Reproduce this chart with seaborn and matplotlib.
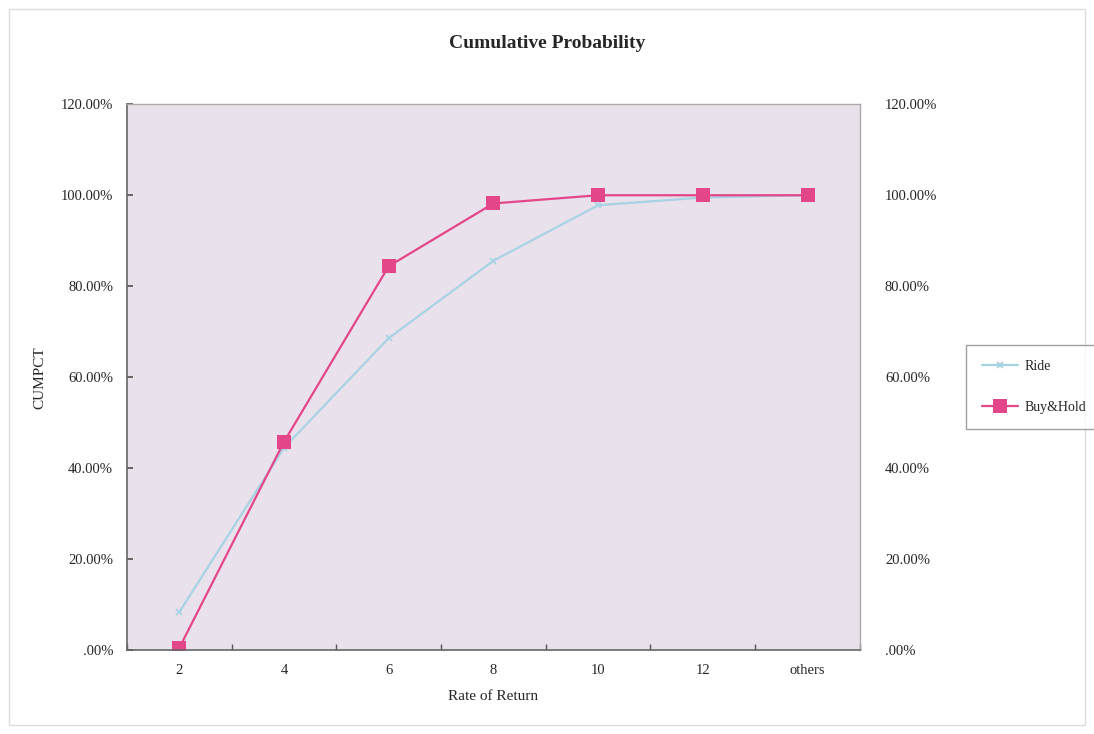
import matplotlib
matplotlib.use("Agg")
import matplotlib.pyplot as plt
import matplotlib.patches as mpatches
from matplotlib.ticker import FuncFormatter, FixedLocator
import seaborn as sns
import pandas as pd
import numpy as np

categories = ["2", "4", "6", "8", "10", "12", "others"]
ride = [8.4, 44.5, 68.6, 85.6, 97.8, 99.5, 100.0]
buy_hold = [0.5, 45.8, 84.4, 98.2, 100.0, 100.0, 100.0]

sns.set_theme(style="white")
plt.rcParams['font.family'] = ['Liberation Serif', 'DejaVu Serif']

pos = np.arange(len(categories))
df = pd.DataFrame({
    "pos": np.concatenate([pos, pos]),
    "value": ride + buy_hold,
    "series": ["Ride"] * len(categories) + ["Buy&Hold"] * len(categories),
})

fig = plt.figure(figsize=(10.94, 7.34), dpi=100)
fig.patch.set_facecolor("white")
fig.patches.append(mpatches.Rectangle((0.008, 0.012), 0.984, 0.976, transform=fig.transFigure,
                                      fill=False, edgecolor="#dddddd", linewidth=1.0))
ax = fig.add_axes([0.116, 0.114, 0.67, 0.744])
ax.set_facecolor("#e9e1eb")

ride_color = "#a9d3e4"
bh_color = "#e4468a"

sns.lineplot(data=df[df.series == "Ride"], x="pos", y="value", ax=ax, color=ride_color,
             marker="x", markersize=5, markeredgewidth=1.3, linewidth=1.6, label="Ride",
             markeredgecolor=ride_color)
sns.lineplot(data=df[df.series == "Buy&Hold"], x="pos", y="value", ax=ax, color=bh_color,
             marker="s", markersize=10, markeredgewidth=0, linewidth=1.6, label="Buy&Hold")

ax.set_xlim(-0.5, len(categories) - 0.5)
ax.set_ylim(0, 120)
ax.set_yticks(np.arange(0, 121, 20))
fmt = FuncFormatter(lambda v, p: ".00%" if v == 0 else f"{v:.2f}%")
ax.yaxis.set_major_formatter(fmt)
ax.set_xticks(pos)
ax.set_xticklabels(categories)
ax.xaxis.set_minor_locator(FixedLocator(np.arange(-0.5, len(categories), 1.0)))
ax.tick_params(axis="x", which="major", length=0, labelsize=10.5, pad=10)
ax.tick_params(axis="x", which="minor", length=4, direction="in", color="#555555", bottom=True)
ax.tick_params(axis="y", which="major", length=4, direction="in", color="#555555",
               labelsize=10.5, pad=10, left=True)
ax.set_xlabel("Rate of Return", fontsize=11, labelpad=9)
ax.set_ylabel("CUMPCT", fontsize=11, labelpad=10)

for s in ["left", "bottom"]:
    ax.spines[s].set_color("#666666")
    ax.spines[s].set_linewidth(1.2)
for s in ["top", "right"]:
    ax.spines[s].set_color("#aaaaaa")
    ax.spines[s].set_linewidth(1.0)

ax2 = ax.twinx()
ax2.set_ylim(ax.get_ylim())
ax2.set_yticks(np.arange(0, 121, 20))
ax2.yaxis.set_major_formatter(fmt)
ax2.tick_params(axis="y", length=0, labelsize=10.5, pad=18)
for s in ax2.spines.values():
    s.set_visible(False)

fig.suptitle("Cumulative Probability", x=0.5, y=0.952, fontsize=14, fontweight="bold")

ax.get_legend().remove()
handles, labels = ax.get_legend_handles_labels()
leg = fig.legend(handles, labels, loc="center left", bbox_to_anchor=(0.877, 0.473),
                 frameon=True, fontsize=10, fancybox=False, edgecolor="#888888",
                 labelspacing=2.0, handlelength=2.6, borderpad=1.1, handletextpad=0.5)
leg.get_frame().set_linewidth(1.0)

fig.savefig("out.png", dpi=100, facecolor="white")
